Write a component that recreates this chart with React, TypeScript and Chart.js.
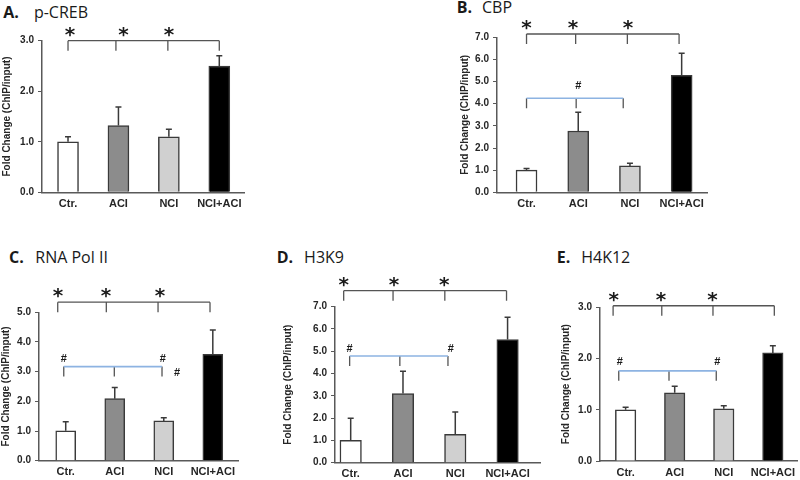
import React, { useEffect, useRef } from "react";
import { Chart, registerables } from "chart.js";
Chart.register(...registerables);

// ---------- data ----------
const categories = ["Ctr.", "ACI", "NCI", "NCI+ACI"];
const yAxisTitle = "Fold Change (ChIP/input)";

const pCrebValues = [1.0, 1.32, 1.1, 2.5];
const pCrebErrors = [0.1, 0.37, 0.15, 0.2];

const cbpValues = [1.0, 2.77, 1.19, 5.28];
const cbpErrors = [0.08, 0.84, 0.12, 1.0];

const polValues = [1.01, 2.09, 1.34, 3.58];
const polErrors = [0.3, 0.38, 0.11, 0.82];

const h3k9Values = [1.0, 3.1, 1.27, 5.53];
const h3k9Errors = [1.0, 1.0, 1.0, 1.0];

const h4k12Values = [1.0, 1.33, 1.02, 2.11];
const h4k12Errors = [0.05, 0.13, 0.06, 0.14];

const barFills = ["#ffffff", "#8c8c8c", "#d0d0d0", "#000000"];

const FONT = '"Liberation Sans", Arial, sans-serif';

type Hash = { x: number; y: number };
type Panel = {
  letter: string;
  name: string;
  titleX: number;
  titleBase: number;
  titleGap: number;
  left: number;
  top: number;
  width: number;
  height: number;
  axisX: number;
  areaTop: number;
  areaRight: number;
  areaBottom: number;
  yMax: number;
  xMin: number;
  xMax: number;
  barPx: number;
  values: number[];
  errors: number[];
  starLevel: number;
  starTicks: number[];
  stars: number[];
  blueLevel?: number;
  blueTicks?: number[];
  hashes?: Hash[];
};

const panels: Panel[] = [
  {
    letter: "A.", name: "p-CREB", titleX: 3.3, titleBase: 18.3, titleGap: 15,
    left: 1, top: 0, width: 250, height: 225,
    axisX: 42, areaTop: 40.7, areaRight: 244, areaBottom: 192.3,
    yMax: 3, xMin: -0.516, xMax: 3.49, barPx: 21,
    values: pCrebValues, errors: pCrebErrors,
    starLevel: 3.0, starTicks: [0, 0.95, 1.98, 3.0], stars: [0.04, 1.1, 2.0],
  },
  {
    letter: "B.", name: "CBP", titleX: 456.7, titleBase: 13.3, titleGap: 10,
    left: 459, top: 0, width: 260, height: 225,
    axisX: 497, areaTop: 37.3, areaRight: 707, areaBottom: 192.3,
    yMax: 7, xMin: -0.571, xMax: 3.49, barPx: 21,
    values: cbpValues, errors: cbpErrors,
    starLevel: 7.15, starTicks: [0, 0.95, 1.95, 2.95], stars: [0, 0.9, 1.96],
    blueLevel: 4.25, blueTicks: [0, 0.96, 1.87],
    hashes: [{ x: 1.0, y: 4.85 }],
  },
  {
    letter: "C.", name: "RNA Pol II", titleX: 9, titleBase: 263.3, titleGap: 11.5,
    left: 0, top: 270, width: 255, height: 210,
    axisX: 39, areaTop: 312.3, areaRight: 238.3, areaBottom: 460.7,
    yMax: 5, xMin: -0.545, xMax: 3.52, barPx: 20,
    values: polValues, errors: polErrors,
    starLevel: 5.34, starTicks: [-0.163, 0.828, 1.883, 2.943], stars: [-0.157, 0.822, 1.923],
    blueLevel: 3.17, blueTicks: [-0.04, 0.991, 1.964],
    hashes: [{ x: -0.04, y: 3.45 }, { x: 1.98, y: 3.45 }, { x: 2.27, y: 3.0 }],
  },
  {
    letter: "D.", name: "H3K9", titleX: 276.7, titleBase: 263.3, titleGap: 11,
    left: 282, top: 270, width: 262, height: 210,
    axisX: 335, areaTop: 306.7, areaRight: 540, areaBottom: 462.7,
    yMax: 7, xMin: -0.3, xMax: 3.62, barPx: 21.5,
    values: h3k9Values, errors: h3k9Errors,
    starLevel: 7.72, starTicks: [-0.134, 0.81, 1.8, 2.98], stars: [-0.134, 0.83, 1.79],
    blueLevel: 4.79, blueTicks: [-0.02, 0.94, 1.86],
    hashes: [{ x: -0.02, y: 5.13 }, { x: 1.916, y: 5.13 }],
  },
  {
    letter: "E.", name: "H4K12", titleX: 556.7, titleBase: 263.3, titleGap: 11,
    left: 560, top: 270, width: 240, height: 210,
    axisX: 600, areaTop: 307.3, areaRight: 800, areaBottom: 461,
    yMax: 3, xMin: -0.522, xMax: 3.5, barPx: 20.5,
    values: h4k12Values, errors: h4k12Errors,
    starLevel: 3.03, starTicks: [-0.255, 0.737, 1.78, 3.03], stars: [-0.24, 0.72, 1.77],
    blueLevel: 1.76, blueTicks: [-0.14, 0.884, 1.847],
    hashes: [{ x: -0.12, y: 1.95 }, { x: 1.87, y: 1.95 }],
  },
];

function drawCentered(ctx: CanvasRenderingContext2D, text: string, x: number, cy: number) {
  const m = ctx.measureText(text);
  const base = cy + (m.actualBoundingBoxAscent - m.actualBoundingBoxDescent) / 2;
  ctx.fillText(text, x, base);
}

function PanelChart({ p }: { p: Panel }) {
  const ref = useRef<HTMLCanvasElement>(null);
  useEffect(() => {
    const errorPlugin = {
      id: "errbars",
      afterDatasetsDraw(chart: any) {
        const { ctx } = chart;
        const xs = chart.scales.x;
        const ys = chart.scales.y;
        ctx.save();
        ctx.strokeStyle = "#3a3a3a";
        ctx.lineWidth = 1.5;
        p.values.forEach((v, i) => {
          const x = xs.getPixelForValue(i);
          const y0 = ys.getPixelForValue(v);
          const y1 = ys.getPixelForValue(v + p.errors[i]);
          ctx.beginPath();
          ctx.moveTo(x, y0);
          ctx.lineTo(x, y1);
          ctx.moveTo(x - 3, y1);
          ctx.lineTo(x + 3, y1);
          ctx.stroke();
        });
        ctx.restore();
      },
    };
    const bracketPlugin = {
      id: "brackets",
      afterDraw(chart: any) {
        const { ctx } = chart;
        const xs = chart.scales.x;
        const ys = chart.scales.y;
        ctx.save();
        // black significance bracket
        const yb = ys.getPixelForValue(p.starLevel);
        ctx.strokeStyle = "#555555";
        ctx.lineWidth = 1.3;
        ctx.beginPath();
        ctx.moveTo(xs.getPixelForValue(p.starTicks[0]), yb);
        ctx.lineTo(xs.getPixelForValue(p.starTicks[p.starTicks.length - 1]), yb);
        p.starTicks.forEach((t) => {
          const x = xs.getPixelForValue(t);
          ctx.moveTo(x, yb);
          ctx.lineTo(x, yb + 10);
        });
        ctx.stroke();
        ctx.fillStyle = "#1a1a1a";
        ctx.textAlign = "center";
        ctx.textBaseline = "alphabetic";
        ctx.font = 'bold 20px "DejaVu Sans", sans-serif';
        p.stars.forEach((s) => drawCentered(ctx, "*", xs.getPixelForValue(s), yb - 9));
        // blue bracket
        if (p.blueLevel !== undefined && p.blueTicks) {
          const yl = ys.getPixelForValue(p.blueLevel);
          ctx.strokeStyle = "#555555";
          ctx.lineWidth = 1.3;
          ctx.beginPath();
          p.blueTicks.forEach((t) => {
            const x = xs.getPixelForValue(t);
            ctx.moveTo(x, yl);
            ctx.lineTo(x, yl + 10);
          });
          ctx.stroke();
          ctx.strokeStyle = "#8db3e2";
          ctx.lineWidth = 1.6;
          ctx.beginPath();
          ctx.moveTo(xs.getPixelForValue(p.blueTicks[0]), yl);
          ctx.lineTo(xs.getPixelForValue(p.blueTicks[p.blueTicks.length - 1]), yl);
          ctx.stroke();
        }
        if (p.hashes) {
          ctx.font = `bold 11px ${FONT}`;
          ctx.fillStyle = "#1a1a1a";
          p.hashes.forEach((h) => drawCentered(ctx, "#", xs.getPixelForValue(h.x), ys.getPixelForValue(h.y)));
        }
        ctx.restore();
      },
    };

    const yWidth = p.axisX - p.left;
    const xHeight = p.top + p.height - p.areaBottom;
    const chart = new Chart(ref.current!, {
      type: "bar",
      data: {
        datasets: [
          {
            data: p.values.map((v, i) => ({ x: i, y: v })),
            backgroundColor: barFills,
            borderColor: "#3a3a3a",
            borderWidth: 1.5,
            borderSkipped: "bottom",
            barThickness: p.barPx,
          } as any,
        ],
      },
      options: {
        responsive: false,
        animation: false,
        devicePixelRatio: 1,
        layout: {
          padding: {
            left: 0,
            top: p.areaTop - p.top,
            right: p.left + p.width - p.areaRight,
            bottom: 0,
          },
        },
        plugins: {
          legend: { display: false },
          tooltip: { enabled: false },
          title: { display: false },
        },
        scales: {
          x: {
            type: "linear",
            min: p.xMin,
            max: p.xMax,
            offset: false,
            grid: { display: false, drawTicks: false, tickLength: 0 },
            border: { display: true, color: "#595959", width: 1.5 },
            ticks: {
              stepSize: 1,
              includeBounds: false,
              autoSkip: false,
              maxRotation: 0,
              padding: 5,
              color: "#262626",
              font: { family: FONT, size: 11, weight: "bold" },
              callback: (v: any) => {
                const n = Number(v);
                return Number.isInteger(n) && n >= 0 && n < categories.length ? categories[n] : "";
              },
            },
            afterFit: (s: any) => {
              s.height = xHeight;
            },
          },
          y: {
            type: "linear",
            min: 0,
            max: p.yMax,
            grid: {
              drawOnChartArea: false,
              drawTicks: true,
              tickLength: 4,
              color: "#595959",
              lineWidth: 1,
            },
            border: { display: true, color: "#595959", width: 1.5 },
            ticks: {
              stepSize: 1,
              padding: 4,
              color: "#262626",
              font: { family: FONT, size: 10, weight: "bold" },
              callback: (v: any) => Number(v).toFixed(1),
            },
            title: {
              display: true,
              text: yAxisTitle,
              color: "#262626",
              padding: 0,
              font: { family: FONT, size: 10, weight: "bold" },
            },
            afterFit: (s: any) => {
              s.width = yWidth;
            },
          },
        },
      },
      plugins: [errorPlugin, bracketPlugin],
    } as any);
    return () => chart.destroy();
  }, []);
  return (
    <canvas
      ref={ref}
      width={p.width}
      height={p.height}
      style={{ position: "absolute", left: p.left, top: p.top, width: p.width, height: p.height }}
    />
  );
}

export default function App() {
  return (
    <div
      style={{
        position: "fixed",
        left: 0,
        top: 0,
        width: 800,
        height: 480,
        background: "#ffffff",
        overflow: "hidden",
      }}
    >
      {panels.map((p) => (
        <div
          key={p.letter + "t"}
          style={{
            position: "absolute",
            left: p.titleX,
            top: p.titleBase - 14.2,
            font: '16px "Open Sans", sans-serif',
            lineHeight: "16px",
            whiteSpace: "nowrap",
            color: "#1a1a1a",
          }}
        >
          <b>{p.letter}</b>
          <span style={{ marginLeft: p.titleGap }}>{p.name}</span>
        </div>
      ))}
      {panels.map((p) => (
        <PanelChart key={p.letter} p={p} />
      ))}
    </div>
  );
}
